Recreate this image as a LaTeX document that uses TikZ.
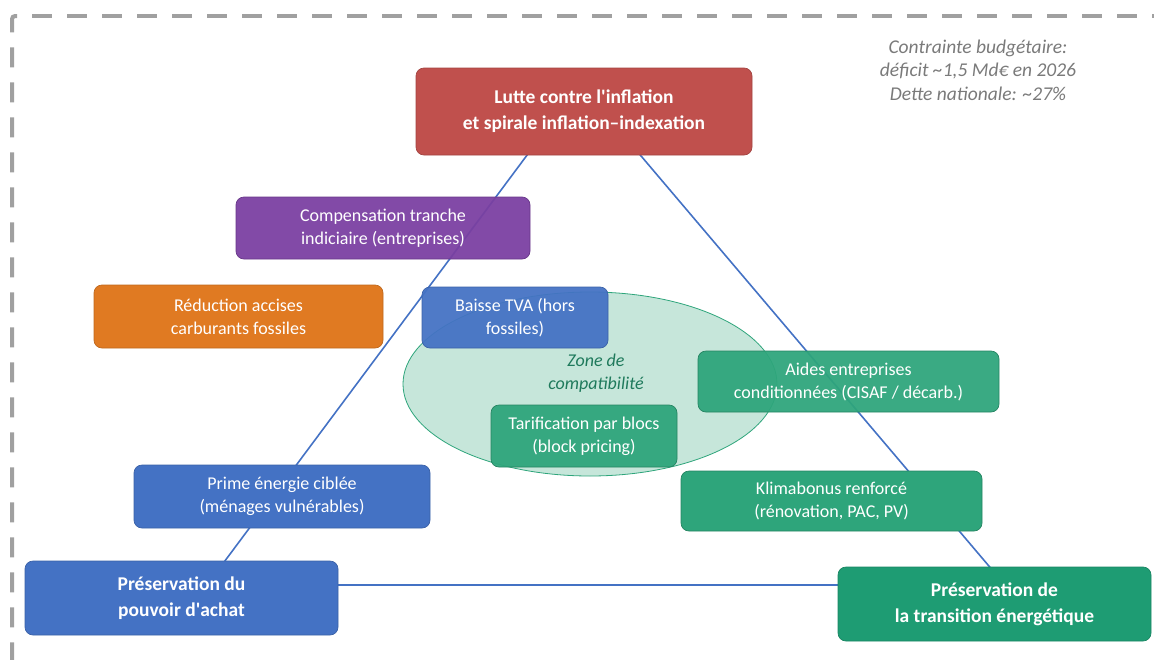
\documentclass[tikz,border=0pt]{standalone}
\usepackage{fontspec}
\setmainfont{Carlito}
\usetikzlibrary{shapes.geometric}
\definecolor{cred}{HTML}{C0504D}
\definecolor{cpurple}{HTML}{7A3FA1}
\definecolor{corange}{HTML}{E07A22}
\definecolor{cblue}{HTML}{4472C4}
\definecolor{cgreen}{HTML}{2EA57B}
\definecolor{cdgreen}{HTML}{1E9C73}
\definecolor{cell}{HTML}{C6E6DA}
\definecolor{czone}{HTML}{1F7A5C}
\definecolor{cgray}{HTML}{A0A0A0}
\definecolor{cnote}{HTML}{7A7A7A}
\tikzset{
  box/.style={rounded corners=8pt, text=white, align=center, inner sep=0pt,
    font=\fontsize{18}{23}\selectfont, line width=0.7pt},
  mainbox/.style={box, font=\fontsize{19.5}{26}\selectfont\bfseries},
  semi/.style={fill opacity=0.94, text opacity=1},
  tri/.style={draw=cblue, line width=1.6pt},
}
\begin{document}
\begin{tikzpicture}[x=1pt,y=-1pt]
\useasboundingbox (0,0) rectangle (1154,659);
% dashed frame
\draw[cgray, line width=4pt, dash pattern=on 20pt off 15pt, rounded corners=3pt]
  (17,16) -- (12,16) -- (12,700);
\draw[cgray, line width=4pt, dash pattern=on 20pt off 15pt] (32,16) -- (1170,16);
% triangle vertices
\coordinate (vtop) at (580,84);
\coordinate (vleft) at (207,585);
\coordinate (vright) at (1005,585);
\draw[tri] (vtop) -- (vleft) -- (vright) -- cycle;
% compatibility zone
\node[ellipse, draw=cgreen, fill=cell, line width=0.8pt, minimum width=374pt, minimum height=184pt, inner sep=0pt] (zone) at (590,384) {};
% main boxes
\node[mainbox, fill=cred, draw=cred!85!black, minimum width=336pt, minimum height=87pt] (lutte) at (584,111.5)
  {Lutte contre l\textquotesingle inflation\\et spirale inflation–indexation};
\node[mainbox, fill=cblue, draw=cblue!85!black, minimum width=313pt, minimum height=74pt] (pouvoir) at (181.5,598)
  {Préservation du\\pouvoir d\textquotesingle achat};
\node[mainbox, fill=cdgreen, draw=cdgreen!85!black, minimum width=313pt, minimum height=74pt] (trans) at (994.5,604)
  {Préservation de\\la transition énergétique};
% measure boxes
\node[box, semi, fill=cpurple, draw=cpurple!85!black, minimum width=294pt, minimum height=62pt] (comp) at (383,228)
  {Compensation tranche\\indiciaire (entreprises)};
\node[box, fill=corange, draw=corange!85!black, minimum width=289pt, minimum height=63pt] (reduc) at (238.5,316.5)
  {Réduction accises\\carburants fossiles};
\node[box, semi, fill=cblue, draw=cblue!85!black, minimum width=186pt, minimum height=61pt] (tva) at (515,317.5)
  {Baisse TVA (hors\\fossiles)};
\node[box, semi, fill=cgreen, draw=cgreen!80!black, minimum width=186pt, minimum height=62pt] (tarif) at (584,436)
  {Tarification par blocs\\(block pricing)};
\node[box, semi, fill=cgreen, draw=cgreen!80!black, minimum width=301pt, minimum height=61pt] (aides) at (848.5,381.5)
  {Aides entreprises\\conditionnées (CISAF / décarb.)};
\node[box, fill=cgreen, draw=cgreen!80!black, minimum width=301pt, minimum height=60pt] (klima) at (831.5,501)
  {Klimabonus renforcé\\(rénovation, PAC, PV)};
\node[box, fill=cblue, draw=cblue!85!black, minimum width=296pt, minimum height=63pt] (prime) at (282,496.5)
  {Prime énergie ciblée\\(ménages vulnérables)};
% labels
\node[text=czone, align=center, font=\fontsize{18}{23}\selectfont\itshape] (zonelbl) at (596,373)
  {Zone de\\compatibilité};
\node[text=cnote, align=center, font=\fontsize{19.5}{23.5}\selectfont\itshape] (note) at (978,70)
  {Contrainte budgétaire:\\déficit \textasciitilde1,5 Md€ en 2026\\Dette nationale: \textasciitilde27\%};
\end{tikzpicture}
\end{document}
